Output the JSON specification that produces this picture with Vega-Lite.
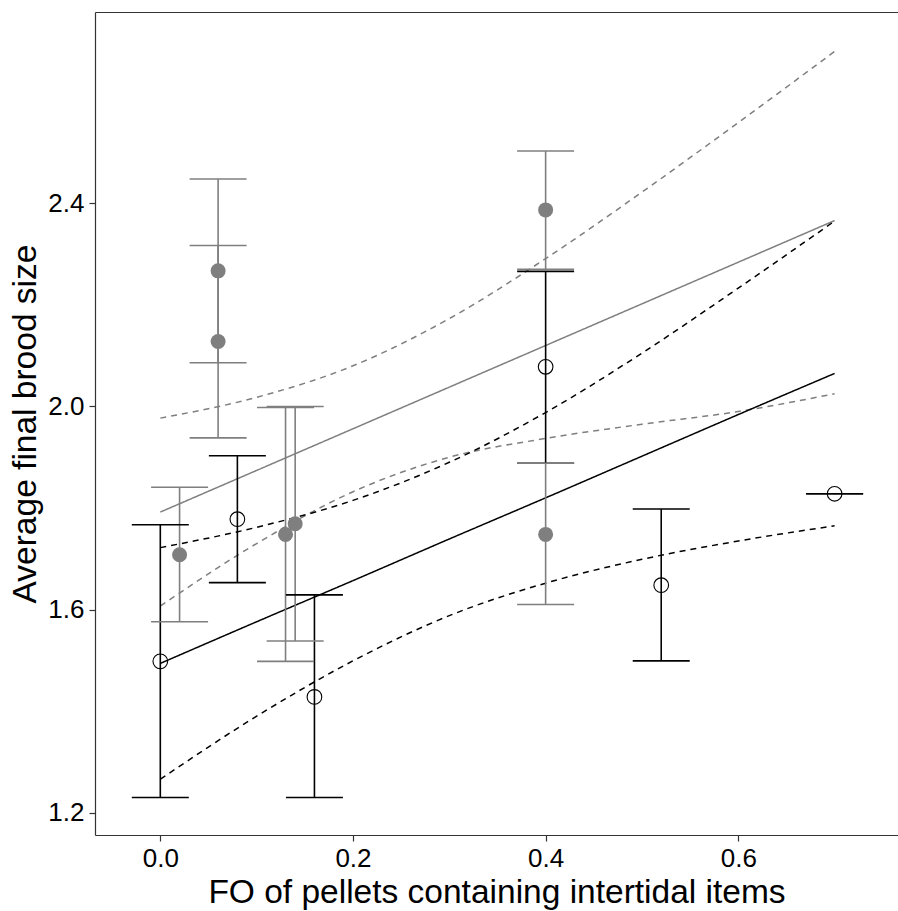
{
  "$schema": "https://vega.github.io/schema/vega-lite/v6.json",
  "width": 803,
  "height": 823,
  "autosize": {"type": "none"},
  "padding": {"left": 95, "top": 12, "right": 0, "bottom": 76},
  "background": "white",
  "config": {
    "view": {"stroke": null},
    "font": "Liberation Sans",
    "axis": {
      "domainColor": "#333333",
      "domainWidth": 1.2,
      "tickColor": "#333333",
      "tickWidth": 1.2,
      "tickSize": 6,
      "labelPadding": 5,
      "labelFont": "Liberation Sans",
      "labelFontSize": 26,
      "labelColor": "#000000",
      "titleFont": "Liberation Sans",
      "titleFontSize": 33.5,
      "titleFontWeight": "normal",
      "titleColor": "#000000",
      "grid": false
    }
  },
  "datasets": {
    "points": [
      {"fo": 0.02, "brood": 1.708, "lo": 1.576, "hi": 1.841, "group": "G1"},
      {"fo": 0.06, "brood": 2.267, "lo": 2.086, "hi": 2.448, "group": "G1"},
      {"fo": 0.06, "brood": 2.128, "lo": 1.938, "hi": 2.317, "group": "G1"},
      {"fo": 0.13, "brood": 1.748, "lo": 1.498, "hi": 1.998, "group": "G1"},
      {"fo": 0.14, "brood": 1.769, "lo": 1.538, "hi": 2.0, "group": "G1"},
      {"fo": 0.4, "brood": 2.387, "lo": 2.27, "hi": 2.503, "group": "G1"},
      {"fo": 0.4, "brood": 1.748, "lo": 1.61, "hi": 1.888, "group": "G1"},
      {"fo": 0.0, "brood": 1.498, "lo": 1.23, "hi": 1.767, "group": "G2"},
      {"fo": 0.08, "brood": 1.778, "lo": 1.653, "hi": 1.903, "group": "G2"},
      {"fo": 0.16, "brood": 1.428, "lo": 1.23, "hi": 1.629, "group": "G2"},
      {"fo": 0.4, "brood": 2.078, "lo": 1.888, "hi": 2.266, "group": "G2"},
      {"fo": 0.52, "brood": 1.648, "lo": 1.499, "hi": 1.798, "group": "G2"},
      {"fo": 0.7, "brood": 1.828, "lo": 1.828, "hi": 1.828, "group": "G2"}
    ],
    "curves": [
      {"fo": 0.0, "brood": 1.792, "group": "G1", "kind": "fit"},
      {"fo": 0.1, "brood": 1.874, "group": "G1", "kind": "fit"},
      {"fo": 0.2, "brood": 1.956, "group": "G1", "kind": "fit"},
      {"fo": 0.3, "brood": 2.038, "group": "G1", "kind": "fit"},
      {"fo": 0.4, "brood": 2.12, "group": "G1", "kind": "fit"},
      {"fo": 0.5, "brood": 2.202, "group": "G1", "kind": "fit"},
      {"fo": 0.6, "brood": 2.284, "group": "G1", "kind": "fit"},
      {"fo": 0.7, "brood": 2.366, "group": "G1", "kind": "fit"},
      {"fo": 0.0, "brood": 1.977, "group": "G1", "kind": "upper"},
      {"fo": 0.1, "brood": 2.018, "group": "G1", "kind": "upper"},
      {"fo": 0.2, "brood": 2.08, "group": "G1", "kind": "upper"},
      {"fo": 0.3, "brood": 2.173, "group": "G1", "kind": "upper"},
      {"fo": 0.4, "brood": 2.291, "group": "G1", "kind": "upper"},
      {"fo": 0.5, "brood": 2.422, "group": "G1", "kind": "upper"},
      {"fo": 0.6, "brood": 2.559, "group": "G1", "kind": "upper"},
      {"fo": 0.7, "brood": 2.699, "group": "G1", "kind": "upper"},
      {"fo": 0.0, "brood": 1.607, "group": "G1", "kind": "lower"},
      {"fo": 0.1, "brood": 1.73, "group": "G1", "kind": "lower"},
      {"fo": 0.2, "brood": 1.832, "group": "G1", "kind": "lower"},
      {"fo": 0.3, "brood": 1.9, "group": "G1", "kind": "lower"},
      {"fo": 0.4, "brood": 1.937, "group": "G1", "kind": "lower"},
      {"fo": 0.5, "brood": 1.965, "group": "G1", "kind": "lower"},
      {"fo": 0.6, "brood": 1.99, "group": "G1", "kind": "lower"},
      {"fo": 0.7, "brood": 2.025, "group": "G1", "kind": "lower"},
      {"fo": 0.0, "brood": 1.494, "group": "G2", "kind": "fit"},
      {"fo": 0.1, "brood": 1.576, "group": "G2", "kind": "fit"},
      {"fo": 0.2, "brood": 1.657, "group": "G2", "kind": "fit"},
      {"fo": 0.3, "brood": 1.739, "group": "G2", "kind": "fit"},
      {"fo": 0.4, "brood": 1.82, "group": "G2", "kind": "fit"},
      {"fo": 0.5, "brood": 1.902, "group": "G2", "kind": "fit"},
      {"fo": 0.6, "brood": 1.984, "group": "G2", "kind": "fit"},
      {"fo": 0.7, "brood": 2.065, "group": "G2", "kind": "fit"},
      {"fo": 0.0, "brood": 1.722, "group": "G2", "kind": "upper"},
      {"fo": 0.1, "brood": 1.762, "group": "G2", "kind": "upper"},
      {"fo": 0.2, "brood": 1.815, "group": "G2", "kind": "upper"},
      {"fo": 0.3, "brood": 1.89, "group": "G2", "kind": "upper"},
      {"fo": 0.4, "brood": 1.988, "group": "G2", "kind": "upper"},
      {"fo": 0.5, "brood": 2.105, "group": "G2", "kind": "upper"},
      {"fo": 0.6, "brood": 2.233, "group": "G2", "kind": "upper"},
      {"fo": 0.7, "brood": 2.365, "group": "G2", "kind": "upper"},
      {"fo": 0.0, "brood": 1.266, "group": "G2", "kind": "lower"},
      {"fo": 0.1, "brood": 1.39, "group": "G2", "kind": "lower"},
      {"fo": 0.2, "brood": 1.499, "group": "G2", "kind": "lower"},
      {"fo": 0.3, "brood": 1.588, "group": "G2", "kind": "lower"},
      {"fo": 0.4, "brood": 1.652, "group": "G2", "kind": "lower"},
      {"fo": 0.5, "brood": 1.699, "group": "G2", "kind": "lower"},
      {"fo": 0.6, "brood": 1.735, "group": "G2", "kind": "lower"},
      {"fo": 0.7, "brood": 1.765, "group": "G2", "kind": "lower"}
    ]
  },
  "resolve": {"axis": {"x": "independent", "y": "independent"}},
  "layer": [
    {
      "data": {"name": "curves"},
      "mark": {"type": "line", "strokeWidth": 1.5, "interpolate": "monotone"},
      "encoding": {
        "x": {"field": "fo", "type": "quantitative", "scale": {"domain": [-0.0678, 0.7658], "nice": false, "zero": false},
              "axis": {"orient": "top", "labels": false, "ticks": false, "title": null, "domain": true}},
        "y": {"field": "brood", "type": "quantitative", "scale": {"domain": [1.1561, 2.7767], "nice": false, "zero": false}, "axis": null},
        "color": {"field": "group", "type": "nominal", "scale": {"domain": ["G1", "G2"], "range": ["#7f7f7f", "#000000"]}, "legend": null},
        "strokeDash": {"field": "kind", "type": "nominal", "scale": {"domain": ["fit", "upper", "lower"], "range": [[1, 0], [6, 5], [6, 5]]}, "legend": null},
        "detail": {"field": "kind"}
      }
    },
    {
      "data": {"name": "points"},
      "mark": {"type": "rule", "strokeWidth": 1.6},
      "encoding": {
        "x": {"field": "fo", "type": "quantitative", "scale": {"domain": [-0.0678, 0.7658], "nice": false, "zero": false},
              "axis": {"orient": "bottom", "values": [0, 0.2, 0.4, 0.6], "format": ".1f", "labelPadding": 4, "title": "FO of pellets containing intertidal items", "titlePadding": 5}},
        "y": {"field": "lo", "type": "quantitative", "scale": {"domain": [1.1561, 2.7767], "nice": false, "zero": false},
              "axis": {"orient": "left", "values": [1.2, 1.6, 2.0, 2.4], "format": ".1f", "title": "Average final brood size", "titlePadding": 5}},
        "y2": {"field": "hi"},
        "color": {"field": "group", "type": "nominal", "scale": {"domain": ["G1", "G2"], "range": ["#7f7f7f", "#000000"]}, "legend": null}
      }
    },
    {
      "data": {"name": "points"},
      "mark": {"type": "tick", "orient": "horizontal", "size": 57, "thickness": 1.6, "opacity": 1},
      "encoding": {
        "x": {"field": "fo", "type": "quantitative", "scale": {"domain": [-0.0678, 0.7658], "nice": false, "zero": false}, "axis": null},
        "y": {"field": "lo", "type": "quantitative", "scale": {"domain": [1.1561, 2.7767], "nice": false, "zero": false}, "axis": null},
        "color": {"field": "group", "type": "nominal", "scale": {"domain": ["G1", "G2"], "range": ["#7f7f7f", "#000000"]}, "legend": null}
      }
    },
    {
      "data": {"name": "points"},
      "mark": {"type": "tick", "orient": "horizontal", "size": 57, "thickness": 1.6, "opacity": 1},
      "encoding": {
        "x": {"field": "fo", "type": "quantitative", "scale": {"domain": [-0.0678, 0.7658], "nice": false, "zero": false}, "axis": null},
        "y": {"field": "hi", "type": "quantitative", "scale": {"domain": [1.1561, 2.7767], "nice": false, "zero": false}, "axis": null},
        "color": {"field": "group", "type": "nominal", "scale": {"domain": ["G1", "G2"], "range": ["#7f7f7f", "#000000"]}, "legend": null}
      }
    },
    {
      "data": {"name": "points"},
      "transform": [{"filter": "datum.group === 'G1'"}],
      "mark": {"type": "circle", "size": 225, "color": "#7f7f7f", "opacity": 1},
      "encoding": {
        "x": {"field": "fo", "type": "quantitative", "scale": {"domain": [-0.0678, 0.7658], "nice": false, "zero": false}, "axis": null},
        "y": {"field": "brood", "type": "quantitative", "scale": {"domain": [1.1561, 2.7767], "nice": false, "zero": false}, "axis": null}
      }
    },
    {
      "data": {"name": "points"},
      "transform": [{"filter": "datum.group === 'G2'"}],
      "mark": {"type": "point", "shape": "circle", "filled": false, "size": 215, "stroke": "#000000", "strokeWidth": 1.1, "opacity": 1},
      "encoding": {
        "x": {"field": "fo", "type": "quantitative", "scale": {"domain": [-0.0678, 0.7658], "nice": false, "zero": false}, "axis": null},
        "y": {"field": "brood", "type": "quantitative", "scale": {"domain": [1.1561, 2.7767], "nice": false, "zero": false}, "axis": null}
      }
    }
  ]
}
